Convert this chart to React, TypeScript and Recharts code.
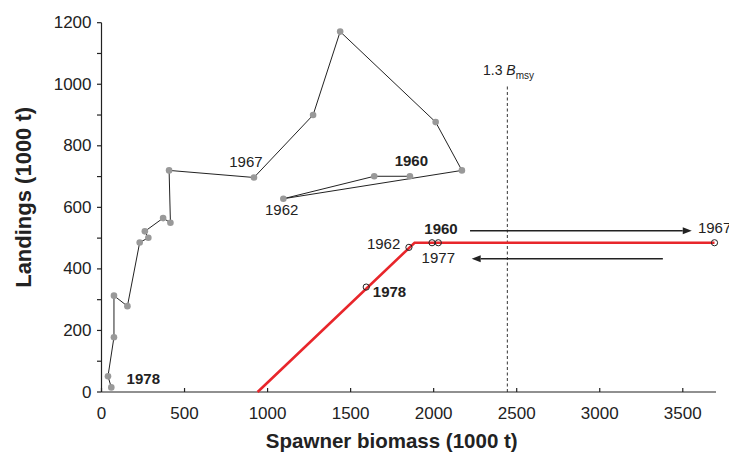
import React from 'react';
import { ComposedChart, Scatter, XAxis, YAxis, ReferenceLine } from 'recharts';

// Observed landings vs spawner biomass, 1960-1978 (1000 t)
const years = [1960, 1961, 1962, 1963, 1964, 1965, 1966, 1967, 1968, 1969, 1970, 1971, 1972, 1973, 1974, 1975, 1976, 1977, 1978];
const biomass = [1857, 1642, 1095, 2170, 2012, 1437, 1274, 918, 407, 415, 371, 261, 282, 230, 156, 75, 75, 39, 59];
const landings = [701, 701, 628, 720, 877, 1171, 900, 697, 720, 550, 565, 522, 501, 486, 279, 313, 178, 51, 15];

// Harvest rule (red line) breakpoints
const ruleBiomass = [940, 1885, 3691];
const ruleLandings = [0, 485, 485];

// Years marked on the rule
const ruleYears = [1960, 1977, 1962, 1967, 1978];
const ruleYearBiomass = [1990, 2028, 1851, 3691, 1594];
const ruleYearLandings = [485, 485, 470, 485, 341];

// 1.3 Bmsy reference
const bmsy13 = 2444;
const bmsyTop = 1000;

// Arrows (direction of the trajectory on the rule)
const arrowRight = { from: 2219, to: 3554, y: 524 };
const arrowLeft = { from: 3380, to: 2229, y: 433 };

const xTicks = [0, 500, 1000, 1500, 2000, 2500, 3000, 3500];
const yTicks = [0, 100, 200, 300, 400, 500, 600, 700, 800, 900, 1000, 1100, 1200];

const FONT = '"Liberation Sans", Arial, Helvetica, sans-serif';
const INK = '#222';

const observed = years.map((yr, i) => ({ year: yr, x: biomass[i], y: landings[i] }));
const rule = ruleBiomass.map((b, i) => ({ x: b, y: ruleLandings[i] }));
const ruleMarks = ruleYears.map((yr, i) => ({ year: yr, x: ruleYearBiomass[i], y: ruleYearLandings[i] }));

const find = (arr: { year: number; x: number; y: number }[], yr: number) => arr.find(d => d.year === yr)!;

// annotation texts, anchored at data points
const annotations = [
  { id: 'g1960', ...find(observed, 1960), text: '1960', bold: true },
  { id: 'g1967', ...find(observed, 1967), text: '1967', bold: false },
  { id: 'g1962', ...find(observed, 1962), text: '1962', bold: false },
  { id: 'g1978', ...find(observed, 1978), text: '1978', bold: true },
  { id: 'r1960', ...find(ruleMarks, 1960), text: '1960', bold: true },
  { id: 'r1977', ...find(ruleMarks, 1977), text: '1977', bold: false },
  { id: 'r1962', ...find(ruleMarks, 1962), text: '1962', bold: false },
  { id: 'r1967', ...find(ruleMarks, 1967), text: '1967', bold: false },
  { id: 'r1978', ...find(ruleMarks, 1978), text: '1978', bold: true },
];

// pixel offsets of each annotation from its anchor: [dx, dy, anchor]
const LABEL_POS: Record<string, [number, number, string]> = {
  g1960: [1.4, -10, 'middle'],
  g1967: [-8, -10, 'middle'],
  g1962: [-1.7, 16, 'middle'],
  g1978: [32, -3, 'middle'],
  r1960: [9, -8.7, 'middle'],
  r1977: [0, 20.6, 'middle'],
  r1962: [-8.6, 1.7, 'end'],
  r1967: [-16.6, -10, 'start'],
  r1978: [6.6, 10, 'start'],
};

const GreyDot = (props: any) => <circle cx={props.cx} cy={props.cy} r={3.3} fill="#999" />;
const OpenDot = (props: any) => (
  <circle cx={props.cx} cy={props.cy} r={3.1} fill="none" stroke={INK} strokeWidth={1} />
);
const NoDot = () => <g />;

const YearLabel = (props: any) => {
  const p = props.payload;
  const [dx, dy, anchor] = LABEL_POS[p.id];
  return (
    <text
      x={props.cx + dx}
      y={props.cy + dy}
      textAnchor={anchor as any}
      fontFamily={FONT}
      fontSize={15}
      fontWeight={p.bold ? 'bold' : 'normal'}
      fill={INK}
    >
      {p.text}
    </text>
  );
};

const BmsyLabel = (props: any) => (
  <text x={props.cx - 24.4} y={props.cy - 9} fontFamily={FONT} fontSize={14} fill={INK}>
    1.3{' '}
    <tspan fontStyle="italic">B</tspan>
    <tspan fontSize={10} dy={4}>msy</tspan>
  </text>
);

const Arrow = (props: any) => {
  const { x1, y1, x2, y2 } = props;
  const dir = Math.sign(x2 - x1);
  const head = 9;
  const half = 3.5;
  return (
    <g>
      <line x1={x1} y1={y1} x2={x2 - dir * head} y2={y2} stroke={INK} strokeWidth={1.3} />
      <polygon
        points={`${x2},${y2} ${x2 - dir * head},${y2 - half} ${x2 - dir * head},${y2 + half}`}
        fill={INK}
      />
    </g>
  );
};

const XTick = (props: any) => {
  const { x, y, payload } = props;
  return (
    <g>
      <line x1={x} y1={y} x2={x} y2={y - 4} stroke={INK} strokeWidth={1.2} />
      <text x={x} y={y + 26.5} textAnchor="middle" fontFamily={FONT} fontSize={17} fill={INK}>
        {payload.value}
      </text>
    </g>
  );
};

const YTick = (props: any) => {
  const { x, y, payload } = props;
  const labelled = payload.value % 200 === 0;
  return (
    <g>
      <line x1={x - 4.5} y1={y} x2={x} y2={y} stroke={INK} strokeWidth={1.2} />
      {labelled && (
        <text x={x - 10} y={y + 5.5} textAnchor="end" fontFamily={FONT} fontSize={17} fill={INK}>
          {payload.value}
        </text>
      )}
    </g>
  );
};

export default function App() {
  return (
    <div style={{ position: 'absolute', left: 0, top: 0, background: '#fff' }}>
      <ComposedChart
        width={729}
        height={453}
        margin={{ top: 22.7, right: 13, left: 41.5, bottom: 8 }}
      >
        <XAxis
          dataKey="x"
          type="number"
          domain={[0, 3700]}
          ticks={xTicks}
          interval={0}
          tickLine={false}
          tickSize={0}
          tickMargin={0}
          tick={<XTick />}
          axisLine={{ stroke: INK, strokeWidth: 1.2 }}
          height={53}
          label={{
            content: (p: any) => (
              <text
                x={p.viewBox.x + p.viewBox.width / 2 - 17}
                y={p.viewBox.y + 56}
                textAnchor="middle"
                fontFamily={FONT}
                fontSize={20.5}
                fontWeight="bold"
                fill={INK}
              >
                Spawner biomass (1000 t)
              </text>
            ),
          }}
        />
        <YAxis
          dataKey="y"
          type="number"
          domain={[0, 1200]}
          ticks={yTicks}
          interval={0}
          tickLine={false}
          tickSize={0}
          tickMargin={0}
          tick={<YTick />}
          axisLine={{ stroke: INK, strokeWidth: 1.2 }}
          width={60}
          label={{
            content: (p: any) => (
              <text
                transform={`translate(30.5, ${p.viewBox.y + p.viewBox.height / 2 - 10}) rotate(-90)`}
                textAnchor="middle"
                fontFamily={FONT}
                fontSize={22}
                fontWeight="bold"
                fill={INK}
              >
                Landings (1000 t)
              </text>
            ),
          }}
        />
        <ReferenceLine
          segment={[{ x: bmsy13, y: 0 }, { x: bmsy13, y: bmsyTop }]}
          stroke="#555"
          strokeWidth={1.2}
          strokeDasharray="3 2.5"
        />
        <ReferenceLine
          segment={[{ x: arrowRight.from, y: arrowRight.y }, { x: arrowRight.to, y: arrowRight.y }]}
          shape={Arrow}
        />
        <ReferenceLine
          segment={[{ x: arrowLeft.from, y: arrowLeft.y }, { x: arrowLeft.to, y: arrowLeft.y }]}
          shape={Arrow}
        />
        <Scatter
          data={observed}
          line={{ stroke: INK, strokeWidth: 1 }}
          lineType="joint"
          shape={GreyDot}
          isAnimationActive={false}
        />
        <Scatter
          data={rule}
          line={{ stroke: '#e8262b', strokeWidth: 2.6 }}
          lineType="joint"
          shape={NoDot}
          isAnimationActive={false}
        />
        <Scatter data={ruleMarks} shape={OpenDot} isAnimationActive={false} />
        <Scatter data={annotations} shape={YearLabel} isAnimationActive={false} />
        <Scatter data={[{ x: bmsy13, y: bmsyTop }]} shape={BmsyLabel} isAnimationActive={false} />
      </ComposedChart>
    </div>
  );
}
